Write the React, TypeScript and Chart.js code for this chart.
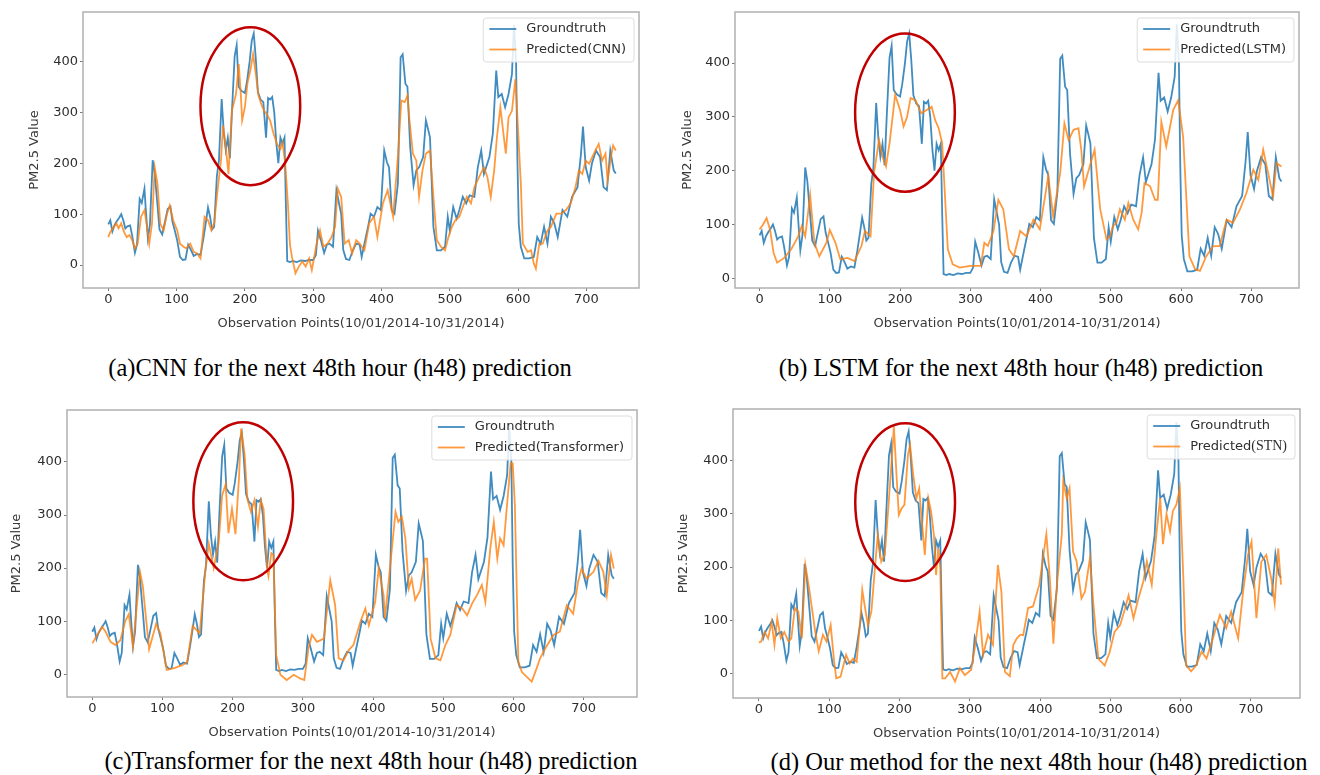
import React, { useEffect, useRef } from 'react';
import { Chart, registerables } from 'chart.js';

Chart.register(...registerables);

type Pt = [number, number];

// ---------------- data ----------------
const xTickValues = [0, 100, 200, 300, 400, 500, 600, 700];
const yTickValues = [0, 100, 200, 300, 400];

const xAxisTitle = 'Observation Points(10/01/2014-10/31/2014)';
const yAxisTitle = 'PM2.5 Value';
const groundtruthLabel = 'Groundtruth';

const groundtruth: Pt[] = [
  [0, 80], [3, 88], [6, 66], [9, 78], [12, 85], [16, 93], [19, 100], [22, 88], [25, 72], [28, 76], [32, 78], [35, 58], [39, 24], [42, 40],
  [46, 130], [49, 122], [53, 150], [55, 108], [58, 52], [61, 80], [65, 206], [68, 180], [72, 118], [75, 70], [79, 60], [83, 85], [87, 110],
  [91, 115], [94, 85], [97, 70], [101, 48], [105, 16], [109, 10], [113, 11], [117, 40], [121, 30], [125, 18], [130, 22], [135, 20], [139, 50],
  [143, 85], [146, 113], [149, 95], [152, 70], [155, 75], [159, 175], [162, 205], [166, 326], [169, 262], [172, 226], [175, 250], [178, 210],
  [181, 300], [185, 410], [188, 432], [191, 350], [195, 342], [200, 338], [203, 360], [207, 400], [210, 440], [213, 455], [216, 405], [219, 340],
  [223, 325], [227, 320], [231, 250], [234, 328], [237, 325], [240, 330], [243, 300], [246, 240], [249, 200], [252, 250], [255, 238], [258, 250],
  [260, 120], [262, 8], [266, 6], [270, 8], [276, 6], [282, 9], [288, 8], [294, 10], [300, 10], [304, 20], [307, 68], [311, 50], [316, 24],
  [320, 40], [324, 42], [329, 36], [334, 147], [338, 120], [341, 100], [344, 30], [348, 12], [353, 10], [358, 29], [363, 42], [368, 40],
  [371, 16], [377, 55], [381, 80], [384, 101], [389, 95], [394, 114], [399, 108], [404, 225], [408, 202], [411, 192], [415, 108], [419, 101],
  [424, 160], [428, 408], [431, 414], [435, 356], [438, 350], [442, 232], [447, 157], [451, 186], [455, 192], [461, 212], [465, 284], [468, 268],
  [471, 251], [476, 75], [481, 29], [487, 29], [493, 36], [497, 95], [500, 68], [505, 114], [510, 91], [514, 108], [519, 134], [524, 121],
  [529, 137], [536, 134], [541, 192], [546, 225], [550, 179], [558, 212], [563, 258], [568, 382], [571, 330], [576, 336], [581, 310], [586, 336],
  [591, 375], [594, 472], [597, 401], [599, 205], [601, 80], [604, 36], [609, 13], [616, 13], [623, 16], [628, 55], [633, 42], [638, 75],
  [643, 42], [648, 95], [653, 82], [658, 55], [665, 108], [672, 95], [679, 134], [687, 153], [692, 218], [695, 272], [699, 192], [704, 166],
  [708, 199], [714, 225], [720, 212], [725, 153], [730, 147], [735, 225], [740, 186], [743, 180],
];

const predictedCNN: Pt[] = [
  [0, 55], [3, 65], [8, 75], [12, 82], [15, 72], [19, 82], [23, 65], [27, 55], [31, 59], [35, 49], [39, 33], [43, 42], [48, 95], [53, 108],
  [56, 82], [60, 42], [64, 82], [68, 192], [72, 160], [76, 82], [81, 68], [86, 101], [90, 117], [95, 88], [101, 68], [105, 42], [110, 36],
  [114, 33], [120, 42], [125, 26], [130, 23], [135, 13], [141, 95], [146, 88], [151, 68], [155, 82], [160, 147], [165, 205], [168, 274],
  [172, 232], [176, 179], [181, 303], [187, 336], [191, 395], [194, 336], [196, 284], [200, 310], [204, 359], [208, 382], [212, 414], [216, 375],
  [220, 333], [224, 316], [228, 303], [232, 297], [237, 284], [242, 258], [247, 238], [252, 228], [255, 241], [259, 200], [263, 120], [266, 40],
  [269, 16], [274, -16], [279, -3], [284, 7], [289, -3], [294, 13], [298, -10], [305, 42], [310, 68], [315, 36], [321, 42], [327, 55], [332, 75],
  [336, 150], [341, 134], [346, 42], [352, 49], [357, 23], [363, 49], [368, 42], [375, 29], [382, 82], [389, 95], [394, 55], [402, 121],
  [409, 147], [417, 95], [424, 212], [429, 323], [434, 320], [438, 333], [441, 284], [446, 219], [451, 205], [455, 134], [460, 186], [465, 219],
  [471, 225], [476, 134], [481, 49], [487, 36], [493, 29], [498, 55], [503, 75], [508, 88], [514, 95], [519, 114], [525, 134], [531, 121],
  [536, 153], [543, 173], [550, 192], [555, 173], [560, 134], [565, 186], [569, 251], [574, 310], [578, 264], [582, 219], [586, 290], [591, 303],
  [596, 365], [599, 290], [604, 160], [607, 42], [614, 26], [619, 29], [623, 3], [626, -7], [631, 42], [636, 42], [643, 68], [648, 75],
  [656, 101], [663, 101], [670, 108], [677, 121], [684, 153], [689, 186], [694, 179], [699, 205], [704, 199], [711, 219], [718, 238],
  [723, 205], [728, 219], [731, 166], [736, 212], [739, 235], [743, 225],
];

const predictedLSTM: Pt[] = [
  [0, 91], [5, 100], [10, 112], [15, 90], [20, 47], [25, 29], [35, 38], [45, 54], [55, 78], [60, 97], [65, 78], [72, 155], [78, 66], [85, 41],
  [95, 66], [100, 90], [108, 66], [115, 35], [125, 38], [135, 32], [145, 60], [150, 88], [158, 78], [163, 196], [170, 257], [175, 226],
  [180, 208], [185, 251], [193, 341], [200, 313], [205, 282], [210, 300], [215, 335], [222, 331], [230, 307], [238, 313], [245, 319], [250, 294],
  [255, 279], [260, 251], [263, 177], [268, 54], [275, 26], [285, 20], [300, 23], [315, 23], [320, 66], [325, 60], [333, 88], [340, 146],
  [347, 128], [355, 54], [362, 41], [371, 88], [380, 78], [390, 109], [399, 91], [411, 190], [418, 115], [428, 196], [434, 288], [440, 257],
  [447, 276], [454, 279], [458, 239], [462, 171], [470, 208], [477, 239], [485, 128], [494, 72], [499, 78], [503, 97], [508, 103], [513, 128],
  [520, 109], [525, 140], [532, 109], [539, 91], [544, 122], [548, 177], [556, 171], [563, 146], [567, 146], [572, 291], [579, 245], [589, 313],
  [596, 331], [603, 263], [612, 41], [620, 17], [627, 14], [636, 41], [646, 60], [655, 60], [665, 109], [674, 103], [684, 128], [693, 158],
  [703, 202], [710, 183], [717, 239], [724, 196], [731, 152], [736, 214], [743, 208],
];

const predictedTransformer: Pt[] = [
  [0, 58], [7, 74], [14, 89], [19, 80], [26, 61], [33, 55], [40, 64], [47, 100], [52, 113], [58, 52], [68, 193], [72, 166], [81, 47], [91, 95],
  [97, 77], [106, 8], [112, 10], [118, 12], [128, 17], [135, 22], [143, 91], [153, 77], [161, 193], [166, 246], [173, 200], [180, 247],
  [185, 337], [190, 358], [194, 266], [199, 312], [204, 264], [209, 370], [212, 463], [217, 415], [221, 330], [226, 306], [231, 328], [236, 278],
  [240, 328], [244, 312], [249, 200], [251, 185], [255, 228], [258, 225], [262, 36], [268, -1], [277, -11], [287, -1], [296, -8], [302, -11],
  [308, 49], [313, 74], [320, 61], [330, 67], [339, 177], [346, 130], [351, 30], [358, 26], [365, 45], [372, 55], [382, 99], [389, 124],
  [394, 92], [403, 136], [408, 199], [415, 149], [417, 105], [424, 199], [432, 306], [436, 287], [441, 297], [446, 256], [451, 162], [455, 180],
  [460, 140], [467, 158], [474, 218], [477, 218], [482, 67], [489, 30], [496, 26], [503, 55], [510, 74], [519, 130], [527, 124], [534, 111],
  [541, 133], [548, 149], [555, 168], [560, 136], [567, 237], [572, 287], [577, 218], [581, 256], [586, 243], [590, 306], [596, 398], [599, 397],
  [602, 319], [607, 23], [612, 4], [619, -5], [626, -14], [633, 11], [638, 30], [645, 48], [657, 74], [666, 80], [676, 130], [685, 114],
  [692, 174], [697, 199], [704, 180], [714, 193], [721, 214], [728, 193], [733, 149], [739, 225], [743, 199],
];

const predictedSTN: Pt[] = [
  [0, 58], [3, 60], [8, 78], [13, 66], [18, 97], [22, 54], [26, 104], [31, 66], [36, 78], [42, 60], [46, 66], [51, 123], [56, 116], [61, 66],
  [66, 204], [72, 154], [80, 79], [85, 42], [91, 73], [96, 60], [102, 91], [107, 22], [110, -9], [116, -6], [124, 35], [129, 19], [134, 28],
  [139, 22], [144, 98], [147, 157], [151, 123], [155, 91], [160, 117], [165, 198], [169, 260], [174, 210], [179, 223], [184, 310], [189, 404],
  [192, 464], [196, 367], [199, 298], [203, 310], [207, 317], [212, 411], [215, 429], [219, 379], [224, 329], [228, 348], [231, 298], [236, 223],
  [241, 329], [245, 304], [249, 260], [252, 185], [255, 235], [258, 198], [261, -9], [265, -9], [272, 3], [279, -15], [286, 10], [293, -3],
  [302, 7], [307, 47], [314, 116], [319, 35], [326, 73], [333, 54], [340, 204], [345, 154], [350, 3], [357, -5], [362, 54], [367, 66],
  [372, 73], [376, 72], [383, 123], [390, 126], [399, 167], [409, 262], [414, 179], [419, 56], [424, 167], [431, 262], [433, 361], [438, 329],
  [442, 348], [447, 229], [452, 211], [459, 141], [464, 154], [471, 217], [476, 129], [483, 28], [492, 15], [499, 40], [506, 78], [514, 91],
  [521, 122], [526, 147], [533, 104], [540, 141], [547, 173], [552, 211], [559, 167], [566, 267], [571, 330], [575, 243], [580, 300], [585, 267],
  [589, 305], [594, 317], [599, 348], [604, 178], [608, 15], [615, 4], [622, 15], [630, 41], [637, 28], [646, 66], [656, 110], [665, 85],
  [672, 116], [682, 66], [689, 154], [696, 223], [701, 248], [708, 104], [715, 210], [722, 223], [729, 179], [734, 132], [739, 235], [743, 167],
];

// ---------------- styling / layout ----------------
const SANS = '"DejaVu Sans", "Liberation Sans", sans-serif';
const SERIF = '"Liberation Serif", "DejaVu Serif", serif';
const FS = 13;
const BLUE = 'rgba(31,119,180,0.85)';
const ORANGE = 'rgba(255,127,14,0.8)';
const TEXT = '#2e2e2e';

interface LabelPart { text: string; serif?: boolean }
interface Panel {
  key: string;
  pred: Pt[];
  predLabel: LabelPart[];
  caption: string;
  box: { left: number; top: number; width: number; height: number };
  area: { L: number; T: number; R: number; B: number };
  yTitleX: number;
  xTitleY: number;
  captionX: number;
  captionY: number;
  xRange: [number, number];
  yRange: [number, number];
  ellipse: { cx: number; cy: number; rx: number; ry: number };
}

const panels: Panel[] = [
  {
    key: 'a', pred: predictedCNN, predLabel: [{ text: 'Predicted(CNN)' }],
    caption: '(a)CNN for the next 48th hour (h48) prediction',
    box: { left: 0, top: 0, width: 660, height: 334 },
    area: { L: 83, T: 12, R: 639, B: 288 }, yTitleX: 35, xTitleY: 324, captionX: 340, captionY: 368,
    xRange: [-37, 777], yRange: [-45, 497], ellipse: { cx: 208, cy: 312, rx: 73, ry: 155 },
  },
  {
    key: 'b', pred: predictedLSTM, predLabel: [{ text: 'Predicted(LSTM)' }],
    caption: '(b) LSTM for the next 48th hour (h48) prediction',
    box: { left: 660, top: 0, width: 660, height: 334 },
    area: { L: 735, T: 12, R: 1299, B: 288 }, yTitleX: 688, xTitleY: 324, captionX: 1021, captionY: 368,
    xRange: [-35, 768], yRange: [-18, 495], ellipse: { cx: 207, cy: 308, rx: 71, ry: 147 },
  },
  {
    key: 'c', pred: predictedTransformer, predLabel: [{ text: 'Predicted(Transformer)' }],
    caption: '(c)Transformer for the next 48th hour (h48) prediction',
    box: { left: 0, top: 395, width: 660, height: 348 },
    area: { L: 67, T: 410, R: 637, B: 697 }, yTitleX: 17, xTitleY: 733, captionX: 371, captionY: 761,
    xRange: [-36, 776], yRange: [-43, 498], ellipse: { cx: 215, cy: 326, rx: 71, ry: 149 },
  },
  {
    key: 'd', pred: predictedSTN, predLabel: [{ text: 'Predicted' }, { text: '(STN)', serif: true }],
    caption: '(d) Our method for the next 48th hour (h48) prediction',
    box: { left: 660, top: 395, width: 660, height: 349 },
    area: { L: 733, T: 409, R: 1300, B: 698 }, yTitleX: 684, xTitleY: 734, captionX: 1039, captionY: 762,
    xRange: [-37, 770], yRange: [-46, 497], ellipse: { cx: 208, cy: 322, rx: 71, ry: 148 },
  },
];

function makeDecor(panel: Panel) {
  return {
    id: 'decor-' + panel.key,
    afterDatasetsDraw(chart: any) {
      const { ctx, chartArea: a, scales } = chart;
      const xs = scales.x;
      const ys = scales.y;
      // red ellipse annotation
      const e = panel.ellipse;
      const cx = xs.getPixelForValue(e.cx);
      const cy = ys.getPixelForValue(e.cy);
      const rx = Math.abs(xs.getPixelForValue(e.cx + e.rx) - cx);
      const ry = Math.abs(ys.getPixelForValue(e.cy + e.ry) - cy);
      ctx.save();
      ctx.beginPath();
      ctx.ellipse(cx, cy, rx, ry, 0, 0, Math.PI * 2);
      ctx.strokeStyle = '#c00000';
      ctx.lineWidth = 2.5;
      ctx.stroke();
      ctx.restore();

      // frame
      ctx.save();
      ctx.strokeStyle = '#b0b0b0';
      ctx.lineWidth = 1.5;
      ctx.strokeRect(a.left, a.top, a.right - a.left, a.bottom - a.top);
      ctx.restore();

      // legend
      const items = [
        { color: BLUE, parts: [{ text: groundtruthLabel }] as LabelPart[] },
        { color: ORANGE, parts: panel.predLabel },
      ];
      ctx.save();
      const fontOf = (p: LabelPart) => (p.serif ? `${FS + 1}px ${SERIF}` : `${FS}px ${SANS}`);
      let maxW = 0;
      for (const it of items) {
        let w = 0;
        for (const p of it.parts) { ctx.font = fontOf(p); w += ctx.measureText(p.text).width; }
        maxW = Math.max(maxW, w);
      }
      const bw = 43 + maxW + 8;
      const bh = 44;
      const bx = a.right - 5 - bw;
      const by = a.top + 6;
      ctx.beginPath();
      const r = 3;
      ctx.moveTo(bx + r, by);
      ctx.arcTo(bx + bw, by, bx + bw, by + bh, r);
      ctx.arcTo(bx + bw, by + bh, bx, by + bh, r);
      ctx.arcTo(bx, by + bh, bx, by, r);
      ctx.arcTo(bx, by, bx + bw, by, r);
      ctx.closePath();
      ctx.fillStyle = 'rgba(255,255,255,0.85)';
      ctx.fill();
      ctx.strokeStyle = '#dcdcdc';
      ctx.lineWidth = 1;
      ctx.stroke();
      items.forEach((it, i) => {
        const yy = by + 11 + i * 20.5;
        ctx.beginPath();
        ctx.moveTo(bx + 6, yy);
        ctx.lineTo(bx + 33, yy);
        ctx.strokeStyle = it.color;
        ctx.lineWidth = 1.8;
        ctx.stroke();
        let tx = bx + 43;
        ctx.textBaseline = 'middle';
        ctx.textAlign = 'left';
        ctx.fillStyle = TEXT;
        for (const p of it.parts) {
          ctx.font = fontOf(p);
          ctx.fillText(p.text, tx, yy);
          tx += ctx.measureText(p.text).width;
        }
      });
      ctx.restore();
    },
  };
}

function PanelChart({ panel }: { panel: Panel }) {
  const ref = useRef<HTMLCanvasElement | null>(null);
  useEffect(() => {
    const canvas = ref.current;
    if (!canvas) return;
    const { box, area } = panel;
    const lh = FS * 1.2;
    const tickFont = { family: SANS, size: FS, lineHeight: 1.2 };
    const chart = new Chart(canvas, {
      type: 'line',
      data: {
        datasets: [
          {
            label: groundtruthLabel,
            data: groundtruth.map(([x, y]) => ({ x, y })),
            borderColor: BLUE,
            borderWidth: 1.8,
            pointRadius: 0,
            tension: 0,
            order: 2,
          },
          {
            label: panel.predLabel.map((p) => p.text).join(''),
            data: panel.pred.map(([x, y]) => ({ x, y })),
            borderColor: ORANGE,
            borderWidth: 1.8,
            pointRadius: 0,
            tension: 0,
            order: 1,
          },
        ],
      },
      options: {
        responsive: false,
        animation: false,
        devicePixelRatio: 1,
        events: [],
        layout: {
          padding: {
            top: area.T - box.top,
            right: box.left + box.width - area.R,
            left: 0,
            bottom: 0,
          },
        },
        plugins: { legend: { display: false }, tooltip: { enabled: false } },
        scales: {
          x: {
            type: 'linear',
            position: 'bottom',
            min: panel.xRange[0],
            max: panel.xRange[1],
            afterBuildTicks: (s: any) => { s.ticks = xTickValues.map((v) => ({ value: v })); },
            afterFit: (s: any) => { s.height = box.top + box.height - area.B; },
            grid: { display: true, drawOnChartArea: false, drawTicks: true, tickLength: 3, color: '#777' },
            border: { display: false },
            ticks: { color: TEXT, font: tickFont, padding: 1, maxRotation: 0, autoSkip: false },
            title: {
              display: true,
              text: xAxisTitle,
              color: '#3a3a3a',
              font: tickFont,
              padding: { top: 0, bottom: box.top + box.height - panel.xTitleY - lh / 2 },
            },
          },
          y: {
            type: 'linear',
            position: 'left',
            min: panel.yRange[0],
            max: panel.yRange[1],
            afterBuildTicks: (s: any) => { s.ticks = yTickValues.map((v) => ({ value: v })); },
            afterFit: (s: any) => { s.width = area.L - box.left; },
            grid: { display: true, drawOnChartArea: false, drawTicks: true, tickLength: 3, color: '#777' },
            border: { display: false },
            ticks: { color: TEXT, font: tickFont, padding: 2 },
            title: {
              display: true,
              text: yAxisTitle,
              color: '#3a3a3a',
              font: tickFont,
              padding: { top: panel.yTitleX - box.left - lh / 2, bottom: 0 },
            },
          },
        },
      } as any,
      plugins: [makeDecor(panel)],
    });
    return () => chart.destroy();
  }, [panel]);
  const { box } = panel;
  return (
    <canvas
      ref={ref}
      width={box.width}
      height={box.height}
      style={{ position: 'absolute', left: box.left, top: box.top, width: box.width, height: box.height }}
    />
  );
}

export default function App() {
  return (
    <div
      style={{
        position: 'absolute', left: 0, top: 0, width: 1320, height: 775,
        background: '#ffffff', overflow: 'hidden',
      }}
    >
      {panels.map((p) => (
        <PanelChart key={p.key} panel={p} />
      ))}
      {panels.map((p) => (
        <div
          key={'cap-' + p.key}
          style={{
            position: 'absolute', left: p.captionX, top: p.captionY,
            transform: 'translate(-50%, -50%)', whiteSpace: 'nowrap',
            fontFamily: SERIF, fontSize: 24.5, lineHeight: 1, color: '#000',
          }}
        >
          {p.caption}
        </div>
      ))}
    </div>
  );
}
